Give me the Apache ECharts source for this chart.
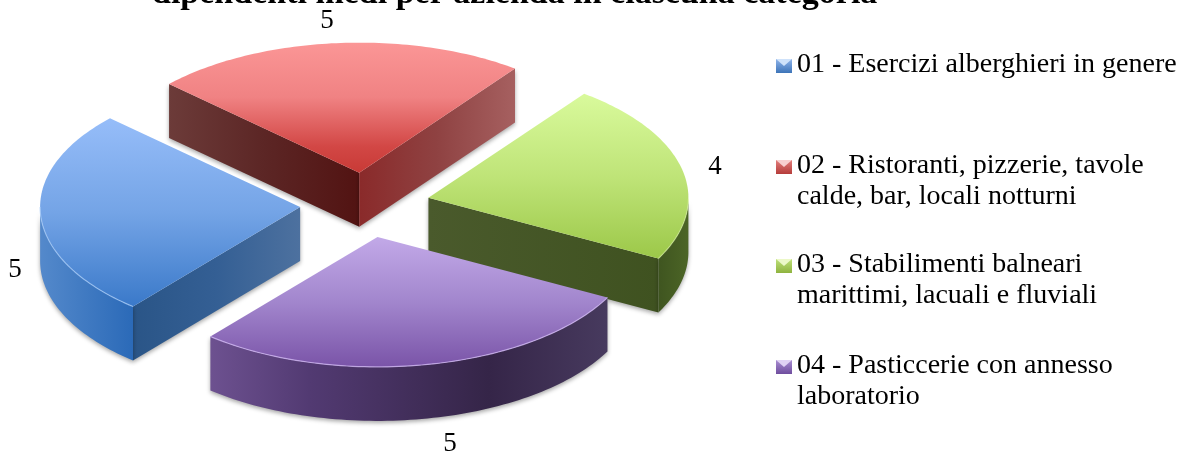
<!DOCTYPE html>
<html><head><meta charset="utf-8">
<style>html,body{margin:0;padding:0;background:#fff}#c{width:1192px;height:457px}</style>
<script src="https://cdn.jsdelivr.net/npm/echarts@6/dist/echarts.min.js"></script>
</head><body><div id="c"></div>
<script>
const titleText = 'dipendenti medi per azienda in ciascuna categoria';
const categories = ['01 - Esercizi alberghieri in genere','02 - Ristoranti, pizzerie, tavole\ncalde, bar, locali notturni','03 - Stabilimenti balneari\nmarittimi, lacuali e fluviali','04 - Pasticcerie con annesso\nlaboratorio'];
const values = [4.96, 4.47, 4.32, 5.45];
const valueLabels = ['5','5','4','5'];

// styling / layout, kept apart from the data
const FONT = '"Liberation Serif", serif';
const PIE = {cx:365, cy:205, a:260, b:130, depth:54, explode:0.25, startAngle:230};
const labelAnchors = [[15,270],[327,21],[715,167],[450,444]];
const legendRows = [65,166,265,366];
const legendMarks = [['#8fb4ea','#3d74b8','#cfe2fa'],['#e27f7d','#b53c3a','#f8d0d0'],['#bde07a','#8fb33f','#ecf8c8'],['#a98ed2','#6f4d9e','#e0d2f4']];
const tops = [
  [[0,'#96bdf9'],[0.5,'#74a4e6'],[1,'#3a79c9']],
  [[0,'#fb9696'],[0.42,'#f08283'],[0.8,'#d24745'],[1,'#c83a36']],
  [[0,'#d9fa9c'],[0.5,'#bfe478'],[1,'#9cc849']],
  [[0,'#c2a9e8'],[0.5,'#a286cd'],[1,'#7a54a8']]
];
const radialWalls = [
  [[0,'#2a5587'],[0.5,'#345f94'],[1,'#4d719f']],
  [[0,'#6c3b39'],[0.5,'#5c2625'],[1,'#521312']],
  [[0,'#4a5a2c'],[1,'#3f5220']],
  [[0,'#6d5190'],[1,'#473a5e']]
];
const secondRadial = [null, [[0,'#8a2a2a'],[0.5,'#8f4242'],[1,'#a66060']], null, null];
const arcWalls = [
  [[0,'#5489cb'],[1,'#2b6ab8']],
  null,
  [[0,'#3f5520'],[1,'#4c6526']],
  [[0,'#6d5190'],[0.25,'#523a72'],[0.7,'#352548'],[1,'#473a5e']]
];
const rims = ['rgba(170,205,250,0.7)',null,'rgba(225,250,170,0.5)','rgba(205,180,240,0.8)'];

const total = values.reduce((s,v)=>s+v,0);
const spans = values.map(v=>v/total*360);
const rad = d=>d*Math.PI/180;
function hGrad(x1,x2,stops){return {type:'linear',global:true,x:x1,y:0,x2:x2,y2:0,colorStops:stops.map(s=>({offset:s[0],color:s[1]}))};}
function vGrad(y1,y2,stops){return {type:'linear',global:true,x:0,y:y1,x2:0,y2:y2,colorStops:stops.map(s=>({offset:s[0],color:s[1]}))};}
const shadow = {shadowColor:'rgba(0,0,0,0.35)',shadowBlur:4,shadowOffsetY:2};

function renderSlice(params, api){
  const i = params.dataIndex;
  let a0 = PIE.startAngle;
  for(let k=0;k<i;k++) a0 -= spans[k];
  const a1 = a0 - api.value(0)/total*360;   // clockwise
  const mid = (a0+a1)/2;
  const ox = PIE.cx + PIE.a*PIE.explode*Math.cos(rad(mid));
  const oy = PIE.cy - PIE.b*PIE.explode*Math.sin(rad(mid));
  const P = t=>[ox+PIE.a*Math.cos(rad(t)), oy-PIE.b*Math.sin(rad(t))];
  const arc = [];
  for(let n=0;n<=80;n++) arc.push(P(a0+(a1-a0)*n/80));
  const z = Math.round((-Math.sin(rad(mid))+1)*100);
  const kids = [];
  const d = PIE.depth;
  const down = p=>[p[0],p[1]+d];
  const O=[ox,oy], A0 = arc[0], A1 = arc[arc.length-1];
  const inner = P(mid); const I = [(ox+inner[0])/2,(oy+inner[1])/2];
  const wall = (C,stops)=>{
    // a radial wall is visible only when the top face lies above that edge
    const lineY = oy + (C[1]-oy)*(I[0]-ox)/(C[0]-ox);
    if(I[1] > lineY) return;
    const l = O[0]<C[0]?O:C, r = O[0]<C[0]?C:O;
    kids.push({type:'polygon',z2:z+1,shape:{points:[l,r,down(r),down(l)]},style:Object.assign({fill:hGrad(l[0],r[0],stops)},shadow)});
  };
  wall(A0,radialWalls[i]);
  wall(A1,secondRadial[i]||radialWalls[i]);
  const front = arc.filter(p=>p[1]>=oy-0.5);
  if(front.length>1 && arcWalls[i]){
    const xs = front.map(p=>p[0]);
    const pts = front.concat(front.slice().reverse().map(down));
    kids.push({type:'polygon',z2:z+2,shape:{points:pts},style:Object.assign({fill:hGrad(Math.min(...xs),Math.max(...xs),arcWalls[i])},shadow)});
    if(rims[i]) kids.push({type:'polyline',z2:z+4,shape:{points:front},style:{stroke:rims[i],lineWidth:1.2,fill:null}});
  }
  const ys = arc.map(p=>p[1]).concat(oy);
  kids.push({type:'polygon',z2:z+3,shape:{points:[O].concat(arc)},style:{fill:vGrad(Math.min(...ys),Math.max(...ys),tops[i])}});
  kids.push({type:'text',z2:z+5,style:{text:valueLabels[i],x:labelAnchors[i][0],y:labelAnchors[i][1],fill:'#000',font:'27px '+FONT,textAlign:'center',textVerticalAlign:'middle'}});
  return {type:'group',children:kids};
}

const legendGraphics = [];
categories.forEach((c,i)=>{
  const y = legendRows[i];
  const m = legendMarks[i];
  legendGraphics.push({type:'rect',x:776,y:y-6,shape:{x:0,y:0,width:16,height:14},style:{fill:{type:'linear',x:0,y:0,x2:0,y2:1,colorStops:[{offset:0,color:m[0]},{offset:1,color:m[1]}]}}});
  legendGraphics.push({type:'polygon',x:776,y:y-6,shape:{points:[[0,0],[16,0],[8,7]]},style:{fill:m[2]}});
  c.split('\n').forEach((line,j)=>{
    legendGraphics.push({type:'text',x:797,y:y+j*31,style:{text:line,fill:'#000',font:'28px '+FONT,textAlign:'left',textVerticalAlign:'middle'}});
  });
});

const chart = echarts.init(document.getElementById('c'),null,{renderer:'canvas'});
chart.setOption({
  animation:false,
  backgroundColor:'#fff',
  title:{text:titleText,left:152,top:-23,padding:0,textStyle:{fontFamily:FONT,fontWeight:'bold',fontSize:34,color:'#000'}},
  tooltip:{show:false},
  graphic:legendGraphics,
  series:[{type:'custom',coordinateSystem:'none',renderItem:renderSlice,data:values.map((v,i)=>({name:categories[i],value:[v]})),silent:true}]
});
</script></body></html>
